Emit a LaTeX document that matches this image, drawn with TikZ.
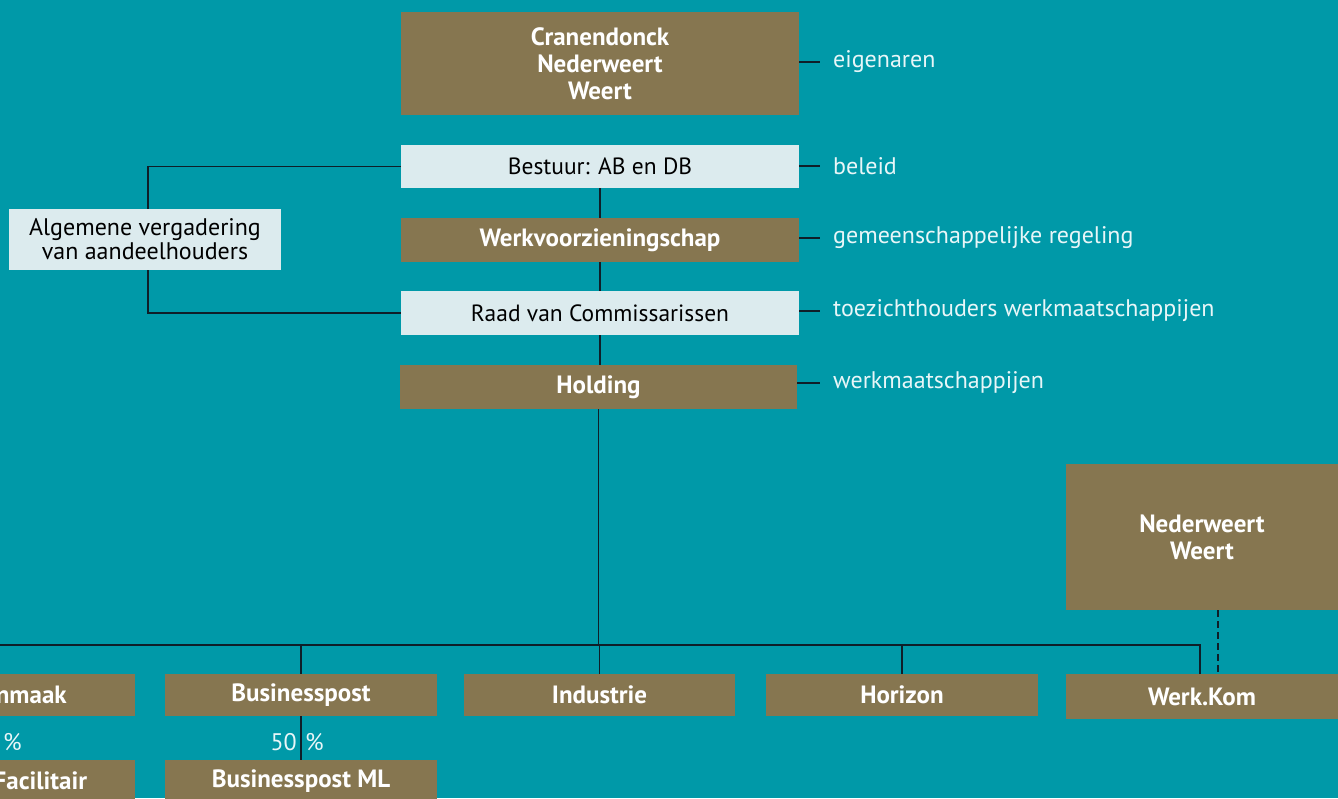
\documentclass[tikz,border=0pt]{standalone}
\usepackage{fontspec}
\setmainfont{PT Sans}
\definecolor{bg}{RGB}{0,153,168}
\definecolor{brownc}{RGB}{134,118,80}
\definecolor{lightc}{RGB}{220,235,238}
\definecolor{linec}{RGB}{15,30,40}
\definecolor{sidec}{RGB}{232,246,248}
\begin{document}
\begin{tikzpicture}[x=1pt,y=-1pt,
  brownbox/.style={fill=brownc,text=white,font=\bfseries\fontsize{25}{27}\selectfont,align=center,inner sep=0pt},
  lightbox/.style={fill=lightc,text=black,font=\fontsize{23.5}{25}\selectfont,align=center,inner sep=0pt},
  sidelabel/.style={text=sidec,font=\fontsize{24}{26}\selectfont,anchor=west,inner sep=4pt},
  pct/.style={text=sidec,font=\fontsize{24}{26}\selectfont,inner sep=0pt},
  conn/.style={draw=linec,line width=1.3pt}]
\useasboundingbox (0,0) rectangle (1338,798);
\clip (0,0) rectangle (1338,798);
\fill[bg] (0,0) rectangle (1338,798);
% central column
\node[brownbox,minimum width=398pt,minimum height=103pt] (top) at (600,63.5) {Cranendonck\\Nederweert\\Weert};
\node[lightbox,minimum width=398pt,minimum height=43pt] (bestuur) at (600,166.5) {Bestuur: AB en DB};
\node[brownbox,minimum width=398pt,minimum height=44pt] (werkv) at (600,240) {Werkvoorzieningschap};
\node[lightbox,minimum width=398pt,minimum height=44pt] (raad) at (600,313) {Raad van Commissarissen};
\node[brownbox,minimum width=397pt,minimum height=44pt] (holding) at (598.5,387) {Holding};
\node[lightbox,minimum width=272pt,minimum height=61pt,font=\fontsize{24}{24}\selectfont] (av) at (145,239.5) {Algemene vergadering\\van aandeelhouders};
% side labels
\node[sidelabel] (l1) at (829,62) {eigenaren};
\node[sidelabel] (l2) at (829,166) {beleid};
\node[sidelabel] (l3) at (829,238) {gemeenschappelijke regeling};
\node[sidelabel] (l4) at (829,311) {toezichthouders werkmaatschappijen};
\node[sidelabel] (l5) at (829,383) {werkmaatschappijen};
\draw[conn,shorten >=9pt] (top.east |- l1.west) -- (l1.west);
\draw[conn,shorten >=9pt] (bestuur.east |- l2.west) -- (l2.west);
\draw[conn,shorten >=9pt] (werkv.east |- l3.west) -- (l3.west);
\draw[conn,shorten >=9pt] (raad.east |- l4.west) -- (l4.west);
\draw[conn,shorten >=9pt] (holding.east |- l5.west) -- (l5.west);
% bottom row
\node[brownbox,minimum width=272pt,minimum height=42pt] (schoon) at (-1,695) {Schoonmaak};
\node[brownbox,minimum width=272pt,minimum height=42pt] (bp) at (301,695) {Businesspost};
\node[brownbox,minimum width=271pt,minimum height=42pt] (ind) at (599.5,695) {Industrie};
\node[brownbox,minimum width=272pt,minimum height=42pt] (hor) at (902,695) {Horizon};
\node[brownbox,minimum width=272pt,minimum height=45pt] (wk) at (1202,696.5) {Werk.Kom};
\node[brownbox,minimum width=272pt,minimum height=146pt] (nw) at (1202,537) {Nederweert\\Weert};
\node[brownbox,minimum width=272pt,minimum height=42pt] (sf) at (-1,781) {Service Facilitair};
\node[brownbox,minimum width=272pt,minimum height=42pt] (bpml) at (301,781) {Businesspost ML};
\coordinate (bus) at (598.5,645);
\coordinate (wkin) at ([xshift=-2pt]wk.north);
% connectors
\draw[conn] (bestuur.south) -- (werkv.north);
\draw[conn] (werkv.south) -- (raad.north);
\draw[conn] (raad.south) -- (holding.north -| raad.south);
\draw[conn] (holding.south) -- (bus);
\draw[conn] (bestuur.west) -| ([xshift=3pt]av.north);
\draw[conn] ([xshift=3pt]av.south) |- (raad.west);
\draw[conn] (schoon.north) -- (schoon.north |- bus) -- (bus -| wkin) -- (wkin);
\draw[conn] (bp.north) -- (bp.north |- bus);
\draw[conn] (ind.north) -- (ind.north |- bus);
\draw[conn] (hor.north) -- (hor.north |- bus);
\draw[conn,dash pattern=on 7pt off 4pt] ([xshift=16pt]nw.south) -- ([xshift=16pt]wk.north);
\draw[conn] (bp.south) -- (bpml.north);
\draw[conn] (schoon.south) -- (sf.north);
% percentages
\node[pct,anchor=east] (p1a) at (297,742) {50};
\node[pct,anchor=west] (p1b) at (305,742) {\%};
\node[pct,anchor=east] (p2a) at (-5,742) {50};
\node[pct,anchor=west] (p2b) at (3,742) {\%};
\end{tikzpicture}
\end{document}
